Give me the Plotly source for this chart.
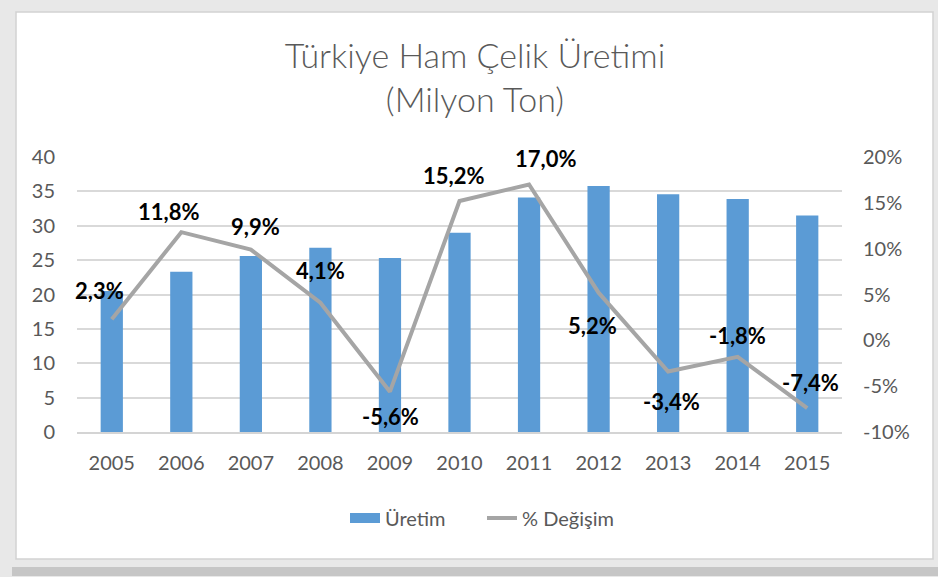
import plotly.graph_objects as go

years = ["2005", "2006", "2007", "2008", "2009", "2010", "2011", "2012", "2013", "2014", "2015"]
production = [20.5, 23.3, 25.6, 26.8, 25.3, 29.0, 34.1, 35.8, 34.6, 33.9, 31.5]
change_pct = [2.3, 11.8, 9.9, 4.1, -5.6, 15.2, 17.0, 5.2, -3.4, -1.8, -7.4]
left_ticks = [0, 5, 10, 15, 20, 25, 30, 35, 40]
right_ticks = [-10, -5, 0, 5, 10, 15, 20]
right_tick_text = ["-10%", "-5%", "0%", "5%", "10%", "15%", "20%"]

change_text = [f"{v:.1f}".replace(".", ",") + "%" for v in change_pct]

# label offsets (style): pixel shift of each data label from its point
label_dx = [-12, -13, 5, 0, 1, -6, 16, -6, 3, 0, 3]
label_dy = [29, 21, 23, 32, -25, 26, 26, -33, -30, 21, 26]

FONT = "Lato"
GRAY_TXT = "#595959"
BLUE = "#5B9BD5"
LINE_GRAY = "#A5A5A5"

fig = go.Figure()
fig.add_trace(go.Bar(
    x=years, y=production, name="Üretim",
    marker=dict(color=BLUE, line=dict(width=0)),
    width=0.32, yaxis="y", showlegend=False,
))
fig.add_trace(go.Scatter(
    x=years, y=change_pct, name="% Değişim", yaxis="y2",
    mode="lines", line=dict(color=LINE_GRAY, width=4),
    showlegend=False, cliponaxis=False,
))
# legend entries
fig.add_trace(go.Scatter(x=[None], y=[None], name="Üretim", mode="lines",
                         line=dict(color=BLUE, width=11)))
fig.add_trace(go.Scatter(x=[None], y=[None], name="% Değişim", mode="lines",
                         line=dict(color=LINE_GRAY, width=4)))

for i, (v, t, dx, dy) in enumerate(zip(change_pct, change_text, label_dx, label_dy)):
    fig.add_annotation(
        x=i, y=v, xref="x", yref="y2", text=t, showarrow=False,
        xshift=dx, yshift=dy, xanchor="center", yanchor="middle",
        font=dict(family=FONT, size=22, color="#000000", weight="bold"),
    )

# plot area: x 77..842, y 157..432
L, R, T, B = 77, 842, 157, 432
W, H = R - L, B - T
def px(x):
    return (x - L) / W
def py(y):
    return (B - y) / H

FRAME = "#e8e8e8"
shapes = [
    dict(type="rect", xref="paper", yref="paper", x0=px(-2), x1=px(16), y0=py(580), y1=py(-2),
         fillcolor=FRAME, line=dict(width=0), layer="above"),
    dict(type="rect", xref="paper", yref="paper", x0=px(-2), x1=px(940), y0=py(12), y1=py(-2),
         fillcolor=FRAME, line=dict(width=0), layer="above"),
    dict(type="rect", xref="paper", yref="paper", x0=px(933), x1=px(940), y0=py(580), y1=py(-2),
         fillcolor=FRAME, line=dict(width=0), layer="above"),
    dict(type="rect", xref="paper", yref="paper", x0=px(-2), x1=px(940), y0=py(580), y1=py(559),
         fillcolor=FRAME, line=dict(width=0), layer="above"),
    dict(type="rect", xref="paper", yref="paper", x0=px(12), x1=px(940), y0=py(576), y1=py(567),
         fillcolor="#c6c6c6", line=dict(width=0), layer="above"),
    dict(type="rect", xref="paper", yref="paper", x0=px(16), x1=px(933), y0=py(559), y1=py(12),
         line=dict(color="#d2d2d2", width=1.5), layer="above"),
]

fig.update_layout(
    width=938, height=577,
    margin=dict(l=L, r=938 - R, t=T, b=577 - B, pad=0, autoexpand=False),
    paper_bgcolor="#ffffff",
    plot_bgcolor="#ffffff",
    shapes=shapes,
    title=dict(
        text="Türkiye Ham Çelik Üretimi<br>(Milyon Ton)",
        x=475 / 938, xref="container", xanchor="center",
        y=1 - 68 / 577, yref="container", yanchor="top",
        font=dict(family=FONT, size=34, color=GRAY_TXT, weight=300),
    ),
    font=dict(family=FONT, size=20, color=GRAY_TXT),
    xaxis=dict(
        type="category", range=[-0.5, 10.5], automargin=False,
        showgrid=False, showline=True, linecolor="#d4d4d4", linewidth=1.5,
        ticks="", tickfont=dict(family=FONT, size=20, color=GRAY_TXT),
        ticklabelstandoff=12,
    ),
    yaxis=dict(
        range=[0, 40], tickvals=left_ticks, automargin=False,
        showgrid=True, gridcolor="#d9d9d9", gridwidth=1.5,
        zeroline=False, showline=False, ticks="",
        tickfont=dict(family=FONT, size=20, color=GRAY_TXT),
        ticklabelstandoff=21,
    ),
    yaxis2=dict(
        range=[-10, 20], tickvals=right_ticks, ticktext=right_tick_text,
        overlaying="y", side="right", showgrid=False, zeroline=False,
        showline=False, ticks="", automargin=False,
        tickfont=dict(family=FONT, size=20, color=GRAY_TXT),
        ticklabelstandoff=20,
    ),
    legend=dict(
        orientation="h", x=345 / 938, xref="container", xanchor="left",
        y=1 - 518 / 577, yref="container", yanchor="middle",
        font=dict(family=FONT, size=20, color=GRAY_TXT),
        bgcolor="rgba(0,0,0,0)", tracegroupgap=0,
        entrywidth=92, entrywidthmode="pixels",
    ),
    showlegend=True,
)

fig.write_html("out.html", config={"displayModeBar": False},
               post_script="document.body.style.margin='0';")
